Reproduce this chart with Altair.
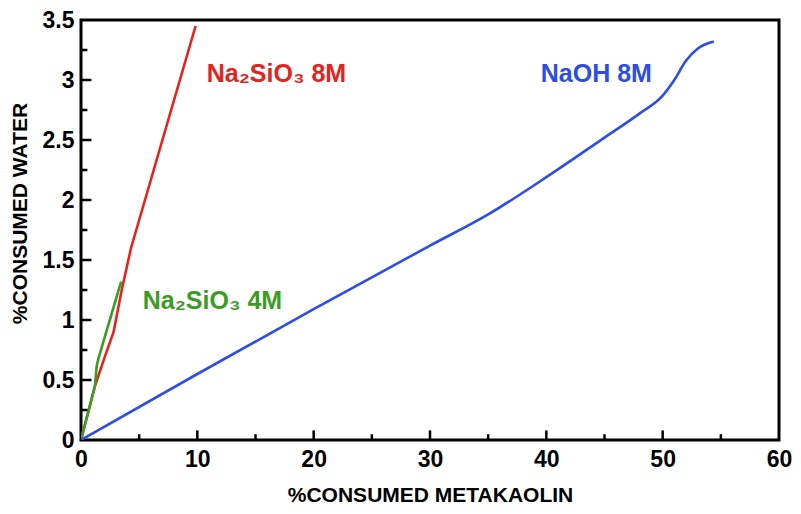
import altair as alt
import pandas as pd

# Series data
red_x = [0, 1.2, 2.0, 2.8, 3.5, 4.3, 9.85]
red_y = [0, 0.45, 0.68, 0.9, 1.25, 1.6, 3.45]

green_x = [0, 1.2, 1.35, 1.5, 3.45]
green_y = [0, 0.45, 0.62, 0.68, 1.32]

blue_x = [0, 10, 20, 30, 35, 40, 45, 48, 50, 51, 52, 53, 54.4]
blue_y = [0, 0.55, 1.09, 1.62, 1.88, 2.19, 2.52, 2.72, 2.87, 3.0, 3.16, 3.26, 3.32]

series_names = ["Na2SiO3 8M", "Na2SiO3 4M", "NaOH 8M"]
series_colors = ["#e5231e", "#3a9d23", "#2c4ee6"]

label_text = ["Na₂SiO₃ 8M", "Na₂SiO₃ 4M", "NaOH 8M"]
label_x = [16.8, 11.3, 44.3]
label_y = [3.05, 1.16, 3.05]

x_ticks = [0, 10, 20, 30, 40, 50, 60]
y_ticks = [0, 0.5, 1, 1.5, 2, 2.5, 3, 3.5]
x_minor = [5, 15, 25, 35, 45, 55]
y_minor = [0.25, 0.75, 1.25, 1.75, 2.25, 2.75, 3.25]

rows = []
for name, xs, ys in zip(series_names, [red_x, green_x, blue_x], [red_y, green_y, blue_y]):
    for i, (a, b) in enumerate(zip(xs, ys)):
        rows.append({"series": name, "x": a, "y": b, "order": i})
df = pd.DataFrame(rows)

labels = pd.DataFrame({"text": label_text, "x": label_x, "y": label_y, "series": series_names})

FONT = "Liberation Sans"

xscale = alt.Scale(domain=[0, 60], nice=False, zero=False)
yscale = alt.Scale(domain=[0, 3.5], nice=False, zero=False)
cscale = alt.Scale(domain=series_names, range=series_colors)

xaxis = alt.Axis(
    values=x_ticks, title="%CONSUMED METAKAOLIN", ticks=False, domain=False, grid=False,
    labelFont=FONT, labelFontWeight="bold", labelFontSize=23, labelColor="black",
    labelPadding=8, titleFont=FONT, titleFontWeight="bold", titleFontSize=21,
    titleColor="black", titleY=55, titleBaseline="middle", labelFlush=False)
yaxis = alt.Axis(
    values=y_ticks, format="~g", title="%CONSUMED WATER", ticks=False, domain=False, grid=False,
    labelFont=FONT, labelFontWeight="bold", labelFontSize=23, labelColor="black",
    labelPadding=7, titleFont=FONT, titleFontWeight="bold", titleFontSize=21,
    titleColor="black", titleX=-61, titleY=193, titleBaseline="middle", labelFlush=False)

base = alt.Chart(df)
lines_lin = base.mark_line(strokeWidth=2.6, clip=True).encode(
    x=alt.X("x:Q", scale=xscale, axis=xaxis),
    y=alt.Y("y:Q", scale=yscale, axis=yaxis),
    color=alt.Color("series:N", scale=cscale, legend=None),
    order="order:Q",
).transform_filter(alt.datum.series != "NaOH 8M")

lines_blue = base.mark_line(strokeWidth=2.6, clip=True, interpolate="monotone").encode(
    x=alt.X("x:Q", scale=xscale),
    y=alt.Y("y:Q", scale=yscale),
    color=alt.Color("series:N", scale=cscale, legend=None),
    order="order:Q",
).transform_filter(alt.datum.series == "NaOH 8M")

# inward tick marks on bottom and left
xt = pd.DataFrame({"x": x_ticks[1:-1] + x_minor,
                   "len": [0.08] * (len(x_ticks) - 2) + [0.048] * len(x_minor)})
xt["base"] = 0.0
yt = pd.DataFrame({"y": y_ticks[1:-1] + y_minor,
                   "len": [0.9] * (len(y_ticks) - 2) + [0.55] * len(y_minor)})
yt["base"] = 0.0

xtick_layer = alt.Chart(xt).mark_rule(color="black", strokeWidth=2.5).encode(
    x=alt.X("x:Q", scale=xscale), y=alt.Y("base:Q", scale=yscale), y2="len:Q")
ytick_layer = alt.Chart(yt).mark_rule(color="black", strokeWidth=2.5).encode(
    y=alt.Y("y:Q", scale=yscale), x=alt.X("base:Q", scale=xscale), x2="len:Q")

text_layer = alt.Chart(labels).mark_text(
    font=FONT, fontWeight="bold", fontSize=25, align="center", baseline="middle").encode(
    x=alt.X("x:Q", scale=xscale), y=alt.Y("y:Q", scale=yscale),
    text="text:N", color=alt.Color("series:N", scale=cscale, legend=None))

chart = alt.layer(lines_lin, lines_blue, xtick_layer, ytick_layer, text_layer).properties(
    width=698, height=420,
    autosize=alt.AutoSizeParams(type="none"),
    padding={"left": 73, "top": 12, "right": 14, "bottom": 66},
).configure(background="white").configure_view(stroke="black", strokeWidth=3)

chart.save("out.html", embed_options={"renderer": "svg", "actions": False})
